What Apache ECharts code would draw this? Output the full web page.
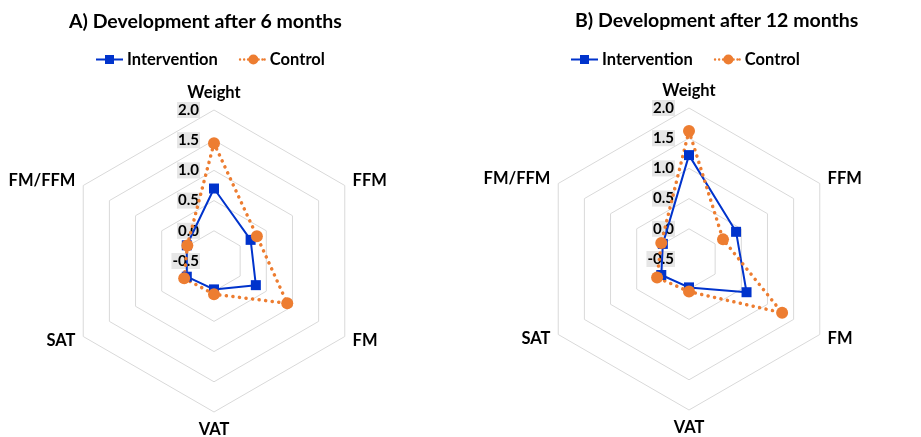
<!DOCTYPE html>
<html>
<head>
<meta charset="utf-8">
<script src="https://cdn.jsdelivr.net/npm/echarts@6/dist/echarts.min.js"></script>
<style>
  html, body { margin: 0; padding: 0; background: #fff; }
  #chart { width: 921px; height: 437px; }
</style>
</head>
<body>
<div id="chart"></div>
<script>
// Radar axes, listed in ECharts' counter-clockwise order starting at the top
const axes = ['Weight', 'FM/FFM', 'SAT', 'VAT', 'FM', 'FFM'];

// Change scores after 6 months (same order as axes)
const intervention6 = [0.7, 0.02, 0.02, -0.03, 0.3, 0.2];
const control6      = [1.45, 0.01, 0.07, 0.05, 0.9, 0.32];

// Change scores after 12 months
const intervention12 = [1.22, 0.0, 0.03, -0.03, 0.6, 0.4];
const control12      = [1.62, 0.03, 0.11, 0.04, 1.28, 0.15];

const panelTitles = ['A) Development after 6 months', 'B) Development after 12 months'];
const seriesNames = ['Intervention', 'Control'];
const axisMin = -0.5, axisMax = 2.0;

const BLUE = '#0033cc';
const ORANGE = '#ed7d31';
const FONT = 'Lato';

// legend icons: solid line with square, dotted line with dot
const iconIntervention = 'path://M0,4.1H27V5.9H0Z M9,0.5H18V9.5H9Z';
function dot(cx, cy, r) {
  return 'M' + (cx - r) + ',' + cy + 'A' + r + ',' + r + ' 0 1,0 ' + (cx + r) + ',' + cy +
         'A' + r + ',' + r + ' 0 1,0 ' + (cx - r) + ',' + cy + 'Z';
}
const iconControl = 'path://' + [dot(1.2, 5, 1.2), dot(5.3, 5, 1.2), dot(9.2, 5, 1.2), dot(14.5, 5, 5),
  dot(19.8, 5, 1.2), dot(23.6, 5, 1.2), dot(25.8, 5, 1.2)].join(' ');

function makeRadar(center) {
  return {
    center: center,
    radius: 151,
    startAngle: 90,
    shape: 'polygon',
    splitNumber: 5,
    indicator: axes.map((a, i) => {
      const ind = { name: a, min: axisMin, max: axisMax };
      if (i === 0) {
        ind.axisLabel = {
          show: true,
          fontFamily: FONT,
          fontWeight: 'bold',
          fontSize: 15,
          color: '#000',
          backgroundColor: '#e6e6e6',
          padding: [1, 1, 0, 1],
          margin: 14,
          formatter: v => Number(v).toFixed(1)
        };
      }
      return ind;
    }),
    axisName: {
      color: '#000',
      fontFamily: FONT,
      fontWeight: 'bold',
      fontSize: 16.5
    },
    nameGap: 9,
    axisLine: { show: false },
    axisTick: { show: false },
    axisLabel: { show: false },
    splitLine: { lineStyle: { color: '#d9d9d9', width: 1 } },
    splitArea: { show: false }
  };
}

function makeSeries(radarIndex, inter, ctrl) {
  return {
    type: 'radar',
    radarIndex: radarIndex,
    silent: true,
    data: [
      {
        name: seriesNames[0],
        value: inter,
        symbol: 'rect',
        symbolSize: 10,
        itemStyle: { color: BLUE },
        lineStyle: { color: BLUE, width: 2 }
      },
      {
        name: seriesNames[1],
        value: ctrl,
        symbol: 'circle',
        symbolSize: 12,
        itemStyle: { color: ORANGE },
        lineStyle: { color: ORANGE, width: 3.5, type: [0.1, 6.5], cap: 'round' }
      }
    ]
  };
}

function makeLegend(left) {
  return {
    left: left,
    top: 51,
    padding: 0,
    itemWidth: 27,
    itemHeight: 10,
    itemGap: 21,
    selectedMode: false,
    textStyle: { fontFamily: FONT, fontWeight: 'bold', fontSize: 16.5, color: '#000', padding: [0, 0, 0, -1] },
    data: [
      { name: seriesNames[0], icon: iconIntervention },
      { name: seriesNames[1], icon: iconControl }
    ]
  };
}

const titleStyle = { fontFamily: FONT, fontWeight: 'bold', fontSize: 19.5, color: '#000' };

const chart = echarts.init(document.getElementById('chart'));
chart.setOption({
  animation: false,
  title: [
    { text: panelTitles[0], left: 64, top: 7, textStyle: titleStyle },
    { text: panelTitles[1], left: 570, top: 6, textStyle: titleStyle }
  ],
  legend: [makeLegend(96), makeLegend(571)],
  radar: [makeRadar([214, 261]), makeRadar([689, 259])],
  series: [
    makeSeries(0, intervention6, control6),
    makeSeries(1, intervention12, control12)
  ]
});
</script>
</body>
</html>
